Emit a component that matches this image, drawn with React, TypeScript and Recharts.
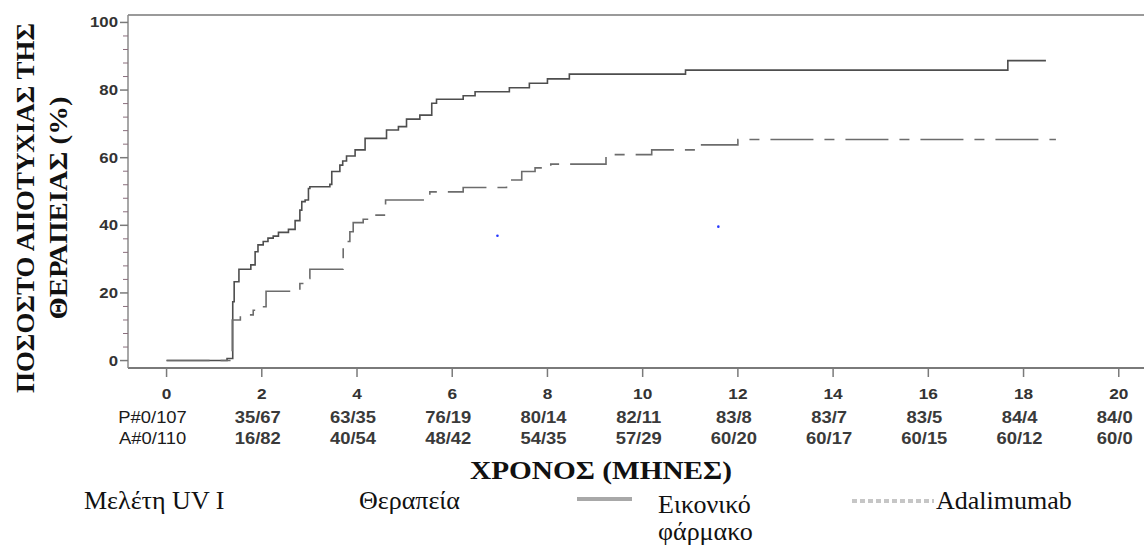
import { ComposedChart, Line, Scatter, XAxis, YAxis, ReferenceLine } from 'recharts';

// Kaplan-Meier style cumulative failure (%) vs months
const months = [0, 2, 4, 6, 8, 10, 12, 14, 16, 18, 20];
const pctMajor = [0, 20, 40, 60, 80, 100];
const pctTicks = Array.from({ length: 26 }, (_, i) => i * 4);

// numbers at risk under each month tick
const placeboRisk = ['P#0/107', '35/67', '63/35', '76/19', '80/14', '82/11', '83/8', '83/7', '83/5', '84/4', '84/0'];
const adaRisk = ['A#0/110', '16/82', '40/54', '48/42', '54/35', '57/29', '60/20', '60/17', '60/15', '60/12', '60/0'];

const placeboT = [0, 1.27, 1.39, 1.42, 1.52, 1.77, 1.86, 1.92, 2.03, 2.13, 2.24, 2.35, 2.56, 2.7, 2.8, 2.84, 2.91, 2.98, 3.01, 3.43, 3.47, 3.64, 3.7, 3.78, 3.96, 4.17, 4.62, 4.87, 5.04, 5.32, 5.57, 5.67, 6.23, 6.48, 7.2, 7.62, 8.0, 8.46, 10.9, 17.67, 18.47];
const placeboPct = [0, 0.6, 17.4, 23.3, 27.0, 28.3, 32.2, 34.2, 35.2, 36.2, 36.8, 37.9, 38.8, 41.4, 44.5, 47.0, 47.5, 50.9, 51.4, 52.1, 55.9, 57.8, 59.0, 60.5, 62.3, 65.7, 68.2, 69.2, 71.4, 72.6, 76.1, 77.3, 78.3, 79.5, 80.7, 82.0, 83.3, 84.7, 85.9, 88.7, 88.7];

const adaT = [0, 1.38, 1.55, 1.82, 1.97, 2.09, 2.8, 2.92, 3.01, 3.71, 3.76, 3.85, 3.92, 4.13, 4.4, 4.6, 5.53, 6.23, 7.14, 7.46, 7.74, 8.07, 9.23, 10.19, 11.1, 12.0, 18.68];
const adaPct = [0, 12.0, 13.5, 14.9, 15.9, 20.5, 22.8, 24.3, 27.0, 34.2, 35.2, 38.1, 40.8, 41.8, 43.0, 47.5, 49.9, 51.2, 53.4, 55.9, 57.0, 58.1, 60.9, 62.3, 63.8, 65.4, 65.4];

// two stray blue censor marks
const markT = [6.95, 11.59];
const markPct = [36.9, 39.6];

const placebo = placeboT.map((t, i) => ({ t, v: placeboPct[i] }));
const ada = adaT.map((t, i) => ({ t, v: adaPct[i] }));
const marks = markT.map((t, i) => ({ t, v: markPct[i] }));

const X_MIN = -0.81;
const X_MAX = 20.53;
const Y_MIN = -2.2;
const Y_MAX = 102.2;

const SANS = '"Liberation Sans", Arial, sans-serif';
const SERIF = '"Liberation Serif", "Times New Roman", serif';

const MonthTick = (props: any) => {
  const { x, y, payload } = props;
  const i = months.indexOf(payload.value);
  const first = i === 0;
  const dx = first ? -14 : -4;
  const row = (txt: string, dy: number) => (
    <text
      transform={`translate(${x + dx},${y + dy}) scale(1.15,1)`}
      textAnchor="middle"
      fontFamily={SANS}
      fontSize={16}
      fontWeight={first ? 'normal' : 'bold'}
      fill={first ? '#1a1a1a' : '#3a3a3a'}
    >
      {txt}
    </text>
  );
  return (
    <g>
      <line x1={x} x2={x} y1={y} y2={y + 9} stroke="#7a7a7a" strokeWidth={1.5} />
      <text
        transform={`translate(${x},${y + 31}) scale(1.15,1)`}
        textAnchor="middle"
        fontFamily={SANS}
        fontSize={15}
        fontWeight="bold"
        fill="#333"
      >
        {payload.value}
      </text>
      {i >= 0 && row(placeboRisk[i], 54.5)}
      {i >= 0 && row(adaRisk[i], 76)}
    </g>
  );
};

const PctTick = (props: any) => {
  const { x, y, payload } = props;
  const major = pctMajor.includes(payload.value);
  if (!major) {
    return <line x1={x - 5} x2={x} y1={y} y2={y} stroke="#8a6f7d" strokeWidth={1} />;
  }
  return (
    <g>
      <line x1={x - 8} x2={x} y1={y} y2={y} stroke="#7a7a7a" strokeWidth={1.5} />
      <text
        transform={`translate(${x - 10},${y + 5}) scale(1.2,1)`}
        textAnchor="end"
        fontFamily={SANS}
        fontSize={14}
        fontWeight="bold"
        fill="#333"
      >
        {payload.value}
      </text>
    </g>
  );
};

const Overlay = () => (
  <svg
    width={1144}
    height={545}
    style={{ position: 'absolute', left: 0, top: 0, pointerEvents: 'none' }}
  >
    <g fontFamily={SERIF} fill="#111">
      <text transform="translate(34,208) rotate(-90)" textAnchor="middle" fontSize={26} fontWeight="bold" textLength={370} lengthAdjust="spacingAndGlyphs">
        ΠΟΣΟΣΤΟ ΑΠΟΤΥΧΙΑΣ ΤΗΣ
      </text>
      <text transform="translate(67,208) rotate(-90)" textAnchor="middle" fontSize={26} fontWeight="bold" textLength={223} lengthAdjust="spacingAndGlyphs">
        ΘΕΡΑΠΕΙΑΣ (%)
      </text>
      <text x={470} y={479} fontSize={26} fontWeight="bold" textLength={262} lengthAdjust="spacingAndGlyphs">
        ΧΡΟΝΟΣ (ΜΗΝΕΣ)
      </text>
      <text x={84} y={509} fontSize={26}>Μελέτη UV I</text>
      <text x={359} y={509} fontSize={26}>Θεραπεία</text>
      <line x1={577} x2={632} y1={499} y2={499} stroke="#a8a8a8" strokeWidth={4} />
      <text x={658} y={513} fontSize={26}>Εικονικό</text>
      <text x={658} y={540} fontSize={26}>φάρμακο</text>
      <line x1={852} x2={934} y1={501} y2={501} stroke="#c6c6c6" strokeWidth={4} strokeDasharray="5 3" />
      <text x={936} y={509} fontSize={26}>Adalimumab</text>
    </g>
  </svg>
);

export default function App() {
  return (
    <div style={{ position: 'absolute', left: 0, top: 0, width: 1144, height: 545, background: '#fff' }}>
      <ComposedChart width={1144} height={545} margin={{ top: 15, right: 0, bottom: 0, left: 0 }}>
        <XAxis
          type="number"
          dataKey="t"
          domain={[X_MIN, X_MAX]}
          ticks={months}
          interval={0}
          allowDataOverflow
          height={177}
          tickSize={0}
          tickMargin={0}
          tickLine={false}
          axisLine={{ stroke: '#7a7a7a', strokeWidth: 2 }}
          tick={(p: any) => <MonthTick {...p} />}
        />
        <YAxis
          type="number"
          dataKey="v"
          domain={[Y_MIN, Y_MAX]}
          ticks={pctTicks}
          interval={0}
          allowDataOverflow
          width={128}
          tickSize={0}
          tickMargin={0}
          tickLine={false}
          axisLine={{ stroke: '#8a8a8a', strokeWidth: 1.5 }}
          tick={(p: any) => <PctTick {...p} />}
        />
        <ReferenceLine y={Y_MAX} stroke="#9a9a9a" strokeWidth={2} />
        <Line
          data={placebo}
          dataKey="v"
          type="stepAfter"
          stroke="#4e4e4e"
          strokeWidth={1.6}
          dot={false}
          activeDot={false}
          isAnimationActive={false}
        />
        <Line
          data={ada}
          dataKey="v"
          type="stepAfter"
          stroke="#6c6c6c"
          strokeWidth={1.6}
          strokeDasharray="43 11 10 11"
          dot={false}
          activeDot={false}
          isAnimationActive={false}
        />
        <Scatter
          data={marks}
          dataKey="v"
          fill="#2436ff"
          isAnimationActive={false}
          shape={(p: any) => <circle cx={p.cx} cy={p.cy} r={1.3} fill="#2436ff" />}
        />
      </ComposedChart>
      <Overlay />
    </div>
  );
}
